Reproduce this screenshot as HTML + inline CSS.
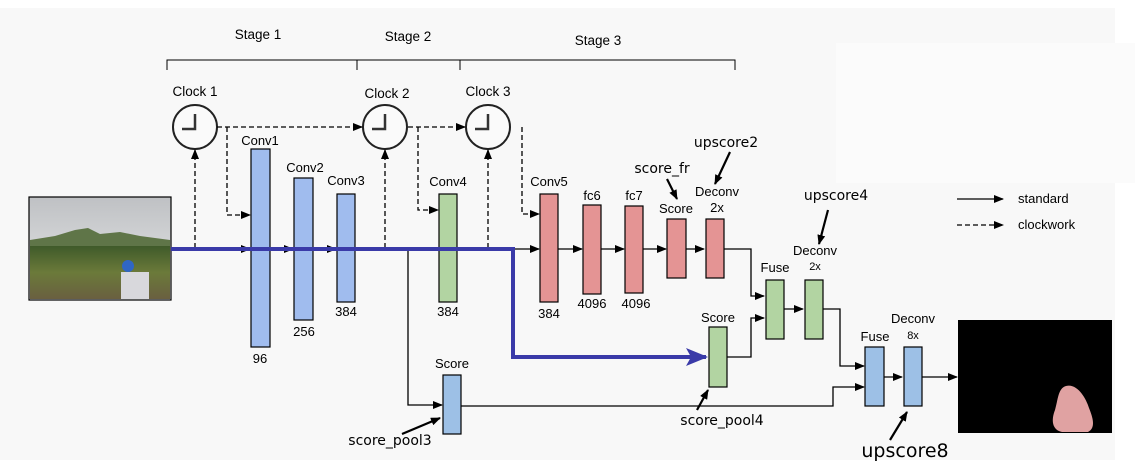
<!DOCTYPE html>
<html><head><meta charset="utf-8"><style>
html,body{margin:0;padding:0;background:#f8f8f8;}
svg{display:block;font-family:"Liberation Sans",sans-serif;}
</style></head><body>
<svg width="1139" height="466" viewBox="0 0 1139 466" xmlns="http://www.w3.org/2000/svg">
<defs>
<marker id="a" markerWidth="10" markerHeight="8" refX="9" refY="4" orient="auto" markerUnits="userSpaceOnUse"><path d="M0,0 L10,4 L0,8 z" fill="#000"/></marker>
<marker id="b" markerWidth="22" markerHeight="18" refX="20" refY="9" orient="auto" markerUnits="userSpaceOnUse"><path d="M0,0 L22,9 L0,18 L5,9 z" fill="#3a3aa8"/></marker>
<linearGradient id="sky" x1="0" y1="0" x2="0" y2="1"><stop offset="0" stop-color="#bfc1c4"/><stop offset="1" stop-color="#e8e9ea"/></linearGradient>
<linearGradient id="gr" x1="0" y1="0" x2="0" y2="1"><stop offset="0" stop-color="#3f5a2a"/><stop offset="0.5" stop-color="#6b7a3a"/><stop offset="1" stop-color="#6a6040"/></linearGradient>
</defs>
<rect x="0" y="0" width="1139" height="466" fill="#f8f8f8"/>
<rect x="0" y="0" width="1139" height="8" fill="#fff"/>
<rect x="1115" y="0" width="24" height="466" fill="#fff"/>
<rect x="836" y="43" width="299" height="140" fill="#fbfbfb"/>
<rect x="0" y="460" width="1139" height="6" fill="#fff"/>

<g stroke="#000" fill="none" stroke-width="1">
<path d="M167,70 V60 H357 V70"/><path d="M357,70 V60 H460 V70"/><path d="M460,70 V60 H735 V70"/>
</g>
<g font-size="13.5" text-anchor="middle">
<text x="258" y="39">Stage 1</text><text x="408" y="41">Stage 2</text><text x="598" y="45">Stage 3</text>
</g>

<g stroke="#222" stroke-width="2" fill="#fafafa">
<circle cx="195" cy="127" r="22"/><circle cx="385" cy="127" r="22"/><circle cx="488" cy="127" r="22"/>
</g>
<g stroke="#333" stroke-width="2.5" fill="none">
<path d="M195,114 V129 H182"/><path d="M385,114 V129 H372"/><path d="M488,114 V129 H475"/>
</g>
<g font-size="13.5" text-anchor="middle">
<text x="195" y="96">Clock 1</text><text x="387" y="98">Clock 2</text><text x="488" y="96">Clock 3</text>
</g>

<g stroke="#000" stroke-width="1.3" fill="none" stroke-dasharray="5,3" marker-end="url(#a)">
<path d="M217,127 H362"/><path d="M408,127 H465"/>
<path d="M227,127 V215 H250"/><path d="M418,127 V210 H438"/><path d="M522,127 V214 H539"/>
<path d="M195,248 V150"/><path d="M385,248 V150"/><path d="M488,248 V150"/>
</g>

<rect x="29" y="197" width="142" height="103" fill="url(#sky)"/>
<path d="M30,240 L55,236 L75,230 L88,228 L100,234 L120,232 L140,236 L170,240 V299 H30 Z" fill="#5f7548"/>
<rect x="30" y="246" width="140" height="53" fill="url(#gr)"/>
<circle cx="128" cy="266" r="6" fill="#2f66c4"/>
<rect x="121" y="272" width="28" height="27" fill="#d8d8dc"/>
<rect x="29" y="197" width="142" height="103" fill="none" stroke="#000" stroke-width="1.2"/>

<g stroke="#000" stroke-width="1.3" fill="none" marker-end="url(#a)">
<path d="M171,249 H250"/><path d="M270,249 H293"/><path d="M313,249 H336"/>
<path d="M513,249 H539"/><path d="M558,249 H582"/><path d="M601,249 H624"/><path d="M643,249 H666"/><path d="M686,249 H704"/>
<path d="M723,249 H751 V296 H764"/>
<path d="M727,357 H751 V318 H764"/>
<path d="M784,309 H803"/>
<path d="M823,309 H840 V366 H864"/>
<path d="M408,249 V405 H442"/>
<path d="M461,406 H833 V387 H864"/>
<path d="M884,377 H902"/>
<path d="M922,377 H957"/>
</g>

<g stroke="#000" stroke-width="1.2">
<rect x="251" y="149" width="19" height="198" fill="#a0bcee"/>
<rect x="294" y="178" width="19" height="142" fill="#a0bcee"/>
<rect x="337" y="194" width="18" height="108" fill="#a0bcee"/>
<rect x="439" y="194" width="18" height="108" fill="#b2d4a2"/>
<rect x="540" y="194" width="18" height="108" fill="#e49494"/>
<rect x="583" y="205" width="18" height="89" fill="#e49494"/>
<rect x="625" y="206" width="18" height="87" fill="#e49494"/>
<rect x="667" y="219" width="19" height="59" fill="#e49494"/>
<rect x="706" y="219" width="18" height="59" fill="#e49494"/>
<rect x="766" y="280" width="18" height="59" fill="#b2d4a2"/>
<rect x="805" y="280" width="18" height="59" fill="#b2d4a2"/>
<rect x="709" y="327" width="18" height="60" fill="#b2d4a2"/>
<rect x="865" y="347" width="19" height="59" fill="#9dc0e6"/>
<rect x="904" y="347" width="18" height="59" fill="#9dc0e6"/>
<rect x="443" y="375" width="18" height="59" fill="#9dc0e6"/>
</g>

<path d="M171,249 H513 V357 H706" stroke="#3a3aa8" stroke-width="4" fill="none" marker-end="url(#b)"/>

<rect x="958" y="320" width="154" height="113" fill="#000"/>
<path d="M1066,386 C1058,388 1058,400 1055,410 C1051,420 1052,430 1062,432 L1088,432 C1096,428 1093,418 1089,408 C1086,398 1077,383 1066,386 Z" fill="#e0a2a2"/>

<g font-size="13" text-anchor="middle">
<text x="260" y="145">Conv1</text><text x="305" y="172">Conv2</text><text x="346" y="185">Conv3</text>
<text x="448" y="186">Conv4</text><text x="549" y="186">Conv5</text>
<text x="592" y="200">fc6</text><text x="634" y="200">fc7</text>
<text x="676" y="213">Score</text><text x="717" y="196">Deconv</text><text x="717" y="212">2x</text>
<text x="775" y="272">Fuse</text><text x="815" y="255">Deconv</text><text x="815" y="270" font-size="11">2x</text>
<text x="718" y="322">Score</text>
<text x="875" y="341">Fuse</text><text x="913" y="323">Deconv</text><text x="913" y="339" font-size="11">8x</text>
<text x="452" y="368">Score</text>
<text x="260" y="363">96</text><text x="304" y="336">256</text><text x="346" y="316">384</text>
<text x="448" y="316">384</text><text x="549" y="318">384</text>
<text x="592" y="308">4096</text><text x="636" y="308">4096</text>
</g>
<g font-family="DejaVu Sans,sans-serif" font-size="14" text-anchor="middle">
<text x="726" y="147">upscore2</text><text x="662" y="173">score_fr</text>
<text x="836" y="200">upscore4</text><text x="722" y="425">score_pool4</text>
<text x="390" y="445">score_pool3</text>
<text x="905" y="457" font-size="19">upscore8</text>
</g>
<g stroke="#000" stroke-width="2.2" fill="none" marker-end="url(#a)">
<path d="M730,152 L715,184"/><path d="M667,179 L677,199"/><path d="M828,210 L819,244"/>
<path d="M697,410 L708,390"/><path d="M402,434 L440,418"/><path d="M890,440 L907,412"/>
</g>

<g stroke="#000" stroke-width="1.3" marker-end="url(#a)">
<path d="M957,199 H1003"/><path d="M957,225 H1003" stroke-dasharray="5,3"/>
</g>
<text x="1018" y="203" font-size="13">standard</text>
<text x="1018" y="229" font-size="13">clockwork</text>
</svg>
</body></html>
